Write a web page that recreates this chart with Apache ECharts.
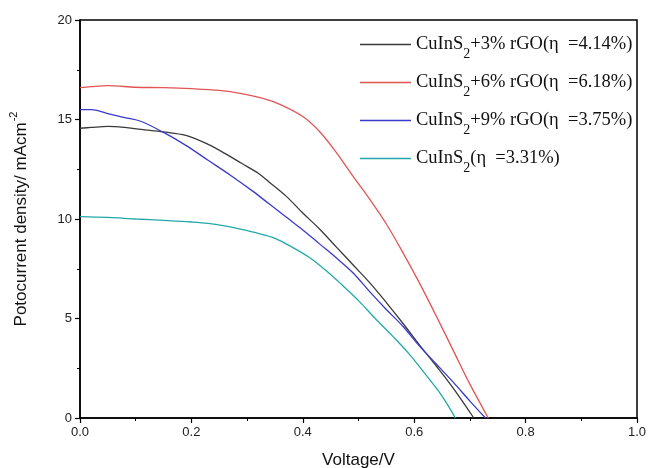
<!DOCTYPE html>
<html>
<head>
<meta charset="utf-8">
<script src="https://cdn.jsdelivr.net/npm/echarts@6/dist/echarts.min.js"></script>
<style>
  html, body { margin: 0; padding: 0; background: #fff; }
  #main { width: 649px; height: 468px; }
</style>
</head>
<body>
<div id="main"></div>
<script>
// J-V 曲线数据
var names = [
    'CuInS2+3% rGO(η  =4.14%)',
    'CuInS2+6% rGO(η  =6.18%)',
    'CuInS2+9% rGO(η  =3.75%)',
    'CuInS2(η  =3.31%)'
];
var colors = ['#3a3a3a', '#e05555', '#3a3acc', '#22a8a8'];

// 3% rGO
var v3 = [0, 0.02, 0.05, 0.08, 0.11, 0.15, 0.19, 0.23, 0.26, 0.29, 0.32, 0.34, 0.37, 0.40, 0.43, 0.46, 0.49, 0.52, 0.55, 0.58, 0.61, 0.64, 0.67, 0.707];
var j3 = [14.56, 14.6, 14.65, 14.6, 14.5, 14.38, 14.2, 13.75, 13.3, 12.8, 12.3, 11.85, 11.15, 10.3, 9.5, 8.6, 7.7, 6.8, 5.8, 4.75, 3.65, 2.6, 1.5, 0];

// 6% rGO
var v6 = [0, 0.02, 0.05, 0.1, 0.15, 0.2, 0.25, 0.29, 0.33, 0.36, 0.40, 0.43, 0.46, 0.49, 0.52, 0.55, 0.58, 0.61, 0.64, 0.67, 0.70, 0.733];
var j6 = [16.6, 16.65, 16.7, 16.62, 16.6, 16.55, 16.46, 16.3, 16.05, 15.75, 15.15, 14.4, 13.35, 12.15, 11.0, 9.75, 8.3, 6.75, 5.1, 3.4, 1.7, 0];

// 9% rGO
var v9 = [0, 0.02, 0.05, 0.08, 0.11, 0.15, 0.19, 0.23, 0.27, 0.31, 0.34, 0.37, 0.40, 0.43, 0.46, 0.49, 0.52, 0.55, 0.58, 0.61, 0.64, 0.67, 0.70, 0.728];
var j9 = [15.5, 15.5, 15.3, 15.1, 14.9, 14.35, 13.7, 12.95, 12.2, 11.4, 10.75, 10.1, 9.45, 8.75, 8.05, 7.3, 6.35, 5.45, 4.6, 3.6, 2.7, 1.8, 0.85, 0];

// 纯 CuInS2
var v0 = [0, 0.05, 0.1, 0.15, 0.2, 0.23, 0.26, 0.29, 0.32, 0.35, 0.38, 0.41, 0.44, 0.47, 0.50, 0.53, 0.56, 0.59, 0.62, 0.65, 0.674];
var j0 = [10.12, 10.08, 10.0, 9.93, 9.85, 9.78, 9.65, 9.48, 9.28, 9.03, 8.6, 8.1, 7.45, 6.7, 5.9, 5.0, 4.15, 3.25, 2.2, 1.1, 0];

var xTicks = [0, 0.2, 0.4, 0.6, 0.8, 1.0];
var yTicks = [0, 5, 10, 15, 20];

function pairs(v, j) {
    var d = [];
    for (var i = 0; i < v.length; i++) {
        d.push([v[i], j[i]]);
    }
    return d;
}

var chart = echarts.init(document.getElementById('main'));

var seriesData = [pairs(v3, j3), pairs(v6, j6), pairs(v9, j9), pairs(v0, j0)];
var series = [];
for (var i = 0; i < names.length; i++) {
    series.push({
        name: names[i],
        type: 'line',
        data: seriesData[i],
        smooth: 0.35,
        showSymbol: false,
        symbol: 'none',
        lineStyle: { color: colors[i], width: 1.3 },
        itemStyle: { color: colors[i] }
    });
}

var axisCommon = {
    axisLine: { show: true, onZero: false, lineStyle: { color: '#000', width: 1.5 } },
    axisTick: { show: true, inside: false, length: 5, lineStyle: { color: '#000', width: 1.2 } },
    minorTick: { show: true, splitNumber: 2, length: 3, lineStyle: { color: '#000', width: 1 } },
    splitLine: { show: false },
    axisLabel: { color: '#222', fontSize: 13, fontFamily: 'Liberation Sans' }
};

var option = {
    backgroundColor: '#fff',
    animation: false,
    grid: {
        left: 80, right: 12, top: 20, bottom: 50,
        outerBoundsMode: 'none',
        show: true, borderColor: '#000', borderWidth: 1.5
    },
    legend: {
        orient: 'vertical',
        left: 355,
        top: 30,
        itemWidth: 51,
        itemHeight: 10,
        itemGap: 12,
        icon: 'path://M0,0 L50,0 L50,1.4 L0,1.4 Z',
        formatter: function (name) {
            return '{a|CuInS}{s|2}{a|' + name.slice(6) + '}';
        },
        textStyle: {
            color: '#111',
            rich: {
                a: { fontFamily: 'Liberation Serif', fontSize: 18.5, color: '#111', lineHeight: 25, verticalAlign: 'middle' },
                s: { fontFamily: 'Liberation Serif', fontSize: 14, color: '#111', lineHeight: 25, verticalAlign: 'bottom', padding: [0, 0, -4, 0] }
            }
        }
    },
    xAxis: echarts.util.merge({
        type: 'value',
        min: xTicks[0],
        max: xTicks[xTicks.length - 1],
        interval: 0.2,
        name: 'Voltage/V',
        nameLocation: 'middle',
        nameGap: 34,
        nameTextStyle: { color: '#111', fontSize: 17, fontFamily: 'Liberation Sans' },
        axisLabel: {
            margin: 8,
            formatter: function (v) { return v.toFixed(1); }
        }
    }, axisCommon),
    yAxis: echarts.util.merge({
        type: 'value',
        min: yTicks[0],
        max: yTicks[yTicks.length - 1],
        interval: 5,
        name: '{t|Potocurrent density/ mAcm}{u|-2}',
        nameLocation: 'middle',
        nameGap: 50,
        nameTextStyle: {
            rich: {
                t: { color: '#111', fontSize: 17, fontFamily: 'Liberation Sans', lineHeight: 22, verticalAlign: 'bottom' },
                u: { color: '#111', fontSize: 11, fontFamily: 'Liberation Sans', lineHeight: 22, verticalAlign: 'top', padding: [0, 0, 8, 1] }
            }
        },
        axisLabel: { margin: 8 }
    }, axisCommon),
    series: series
};

chart.setOption(option);
</script>
</body>
</html>
